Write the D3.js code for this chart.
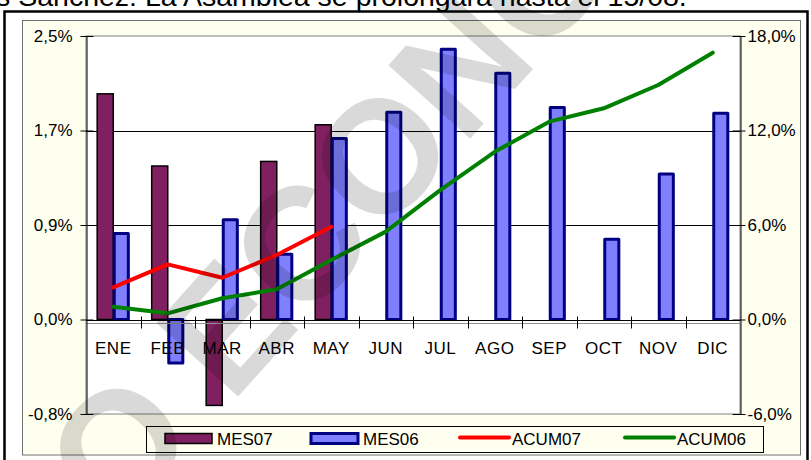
<!DOCTYPE html>
<html>
<head>
<meta charset="utf-8">
<script src="https://cdn.jsdelivr.net/npm/d3@7"></script>
<style>
  html, body { margin: 0; padding: 0; background: #ffffff; overflow: hidden; }
  text { font-family: "Liberation Sans", Arial, sans-serif; }
</style>
</head>
<body>
<div id="chart"></div>
<script>
// Chart data
const months = ["ENE", "FEB", "MAR", "ABR", "MAY", "JUN", "JUL", "AGO", "SEP", "OCT", "NOV", "DIC"];
const mes07 = [1.97, 1.34, -0.75, 1.38, 1.70];
const mes06 = [0.75, -0.38, 0.87, 0.57, 1.58, 1.81, 2.36, 2.15, 1.85, 0.70, 1.27, 1.80];
const acum07 = [2.04, 3.50, 2.65, 4.10, 5.89];
const acum06 = [0.81, 0.39, 1.35, 1.92, 3.78, 5.58, 8.22, 10.65, 12.56, 13.41, 14.89, 16.94];

const leftTicks = [-0.825, 0, 0.825, 1.65, 2.475];
const leftTickLabels = ["-0,8%", "0,0%", "0,9%", "1,7%", "2,5%"];
const rightTicks = [-6, 0, 6, 12, 18];
const rightTickLabels = ["-6,0%", "0,0%", "6,0%", "12,0%", "18,0%"];

const seriesNames = ["MES07", "MES06", "ACUM07", "ACUM06"];
const titleText = "s Sánchez: La Asamblea se prolongará hasta el 15/08.";
const watermarkText = "O ECONOMISTA";

// Layout
const WIDTH = 811;
const HEIGHT = 460;
const PLOT = { left: 86, right: 740, top: 36, bottom: 414 };
const COLORS = {
  mes07: "#802060",
  mes06: "#8080ff",
  mes06Stroke: "#000080",
  acum07: "#ff0000",
  acum06: "#008000",
  cream: "#fffff0",
};

const svg = d3
  .select("#chart")
  .append("svg")
  .attr("width", WIDTH)
  .attr("height", HEIGHT);

// Title line (cut off at the top)
svg.append("text")
  .attr("x", -4)
  .attr("y", 6)
  .style("font-size", "28.5px")
  .style("fill", "#000")
  .text(titleText);

// Outer frame and chart area
svg.append("rect")
  .attr("x", 4.5)
  .attr("y", 11.5)
  .attr("width", 803)
  .attr("height", 455)
  .attr("fill", "#ffffff")
  .attr("stroke", "#000")
  .attr("stroke-width", 2.5);

svg.append("rect")
  .attr("x", 22.5)
  .attr("y", 20.5)
  .attr("width", 778)
  .attr("height", 434.5)
  .attr("fill", COLORS.cream)
  .attr("stroke", "#707070")
  .attr("stroke-width", 1);

svg.append("rect")
  .attr("x", PLOT.left)
  .attr("y", PLOT.top)
  .attr("width", PLOT.right - PLOT.left)
  .attr("height", PLOT.bottom - PLOT.top)
  .attr("fill", "#ffffff")
  .attr("stroke", "#808080")
  .attr("stroke-width", 1);

// Scales
const x = d3
  .scaleBand(months, [PLOT.left, PLOT.right])
  .paddingInner(0.41)
  .paddingOuter(0.205);
const xSub = d3.scaleBand(["MES07", "MES06"], [0, x.bandwidth()]);
const yL = d3.scaleLinear([-0.825, 2.475], [PLOT.bottom, PLOT.top]);
const yR = d3.scaleLinear([-6, 18], [PLOT.bottom, PLOT.top]);
const step = x.step();
const cx = (m) => x(m) + x.bandwidth() / 2;

// Gridlines
svg.append("g")
  .selectAll("line")
  .data(leftTicks.filter((d) => d > 0 && d < 2.475))
  .enter()
  .append("line")
  .attr("x1", PLOT.left)
  .attr("x2", PLOT.right)
  .attr("y1", (d) => Math.round(yL(d)) + 0.5)
  .attr("y2", (d) => Math.round(yL(d)) + 0.5)
  .attr("stroke", "#000")
  .attr("stroke-width", 1);

// Bars
const bars = svg.append("g");
bars.selectAll(".b07")
  .data(mes07)
  .enter()
  .append("rect")
  .attr("class", "b07")
  .attr("x", (d, i) => x(months[i]) + xSub("MES07"))
  .attr("y", (d) => Math.min(yL(d), yL(0)))
  .attr("width", xSub.bandwidth())
  .attr("height", (d) => Math.abs(yL(d) - yL(0)))
  .attr("fill", COLORS.mes07)
  .attr("stroke", "#000")
  .attr("stroke-width", 1.5);

bars.selectAll(".b06")
  .data(mes06)
  .enter()
  .append("rect")
  .attr("class", "b06")
  .attr("x", (d, i) => x(months[i]) + xSub("MES06") + 1)
  .attr("y", (d) => Math.min(yL(d), yL(0)))
  .attr("width", xSub.bandwidth() - 2)
  .attr("height", (d) => Math.abs(yL(d) - yL(0)))
  .attr("fill", COLORS.mes06)
  .attr("stroke", COLORS.mes06Stroke)
  .attr("stroke-width", 3)
  .attr("stroke-linejoin", "round");

// Category axis at zero
const y0 = Math.round(yL(0)) + 0.5;
svg.append("line")
  .attr("x1", PLOT.left)
  .attr("x2", PLOT.right)
  .attr("y1", y0)
  .attr("y2", y0)
  .attr("stroke", "#000")
  .attr("stroke-width", 1);
svg.append("line")
  .attr("x1", PLOT.left)
  .attr("x2", PLOT.right)
  .attr("y1", y0 + 3)
  .attr("y2", y0 + 3)
  .attr("stroke", "#909090")
  .attr("stroke-width", 1);

svg.append("g")
  .selectAll("line")
  .data(months.slice(1))
  .enter()
  .append("line")
  .attr("x1", (d) => Math.round(x(d) - (step - x.bandwidth()) / 2) + 0.5)
  .attr("x2", (d) => Math.round(x(d) - (step - x.bandwidth()) / 2) + 0.5)
  .attr("y1", y0 - 4)
  .attr("y2", y0 + 8)
  .attr("stroke", "#000")
  .attr("stroke-width", 1);

svg.append("g")
  .selectAll("text")
  .data(months)
  .enter()
  .append("text")
  .attr("x", (d) => cx(d))
  .attr("y", 354)
  .attr("text-anchor", "middle")
  .style("font-size", "17px")
  .style("letter-spacing", "0.5px")
  .style("fill", "#000")
  .text((d) => d);

// Lines
const lineL = d3
  .line()
  .x((d, i) => cx(months[i]))
  .y((d) => yR(d));

svg.append("path")
  .datum(acum06)
  .attr("fill", "none")
  .attr("stroke", COLORS.acum06)
  .attr("stroke-width", 4)
  .attr("stroke-linecap", "round")
  .attr("stroke-linejoin", "round")
  .attr("d", lineL);

svg.append("path")
  .datum(acum07)
  .attr("fill", "none")
  .attr("stroke", COLORS.acum07)
  .attr("stroke-width", 4)
  .attr("stroke-linecap", "round")
  .attr("stroke-linejoin", "round")
  .attr("d", lineL);

// Value axes
const leftAxis = svg.append("g")
  .attr("transform", `translate(${PLOT.left + 0.5},0)`)
  .call(
    d3.axisLeft(yL)
      .tickValues(leftTicks)
      .tickFormat((d, i) => leftTickLabels[i])
      .tickSizeInner(6)
      .tickSizeOuter(0)
      .tickPadding(8)
  );
leftAxis.selectAll(".tick line").attr("x1", 7).attr("x2", -6);

const rightAxis = svg.append("g")
  .attr("transform", `translate(${PLOT.right + 0.5},0)`)
  .call(
    d3.axisRight(yR)
      .tickValues(rightTicks)
      .tickFormat((d, i) => rightTickLabels[i])
      .tickSizeInner(5)
      .tickSizeOuter(0)
      .tickPadding(2)
  );
rightAxis.selectAll(".tick line").attr("x1", -8).attr("x2", 5);

[leftAxis, rightAxis].forEach((a) => {
  a.select(".domain").attr("stroke", "#000").attr("stroke-width", 1);
  a.selectAll(".tick line").attr("stroke", "#000");
  a.selectAll(".tick text")
    .style("font-size", "17px")
    .style("font-family", "'Liberation Sans', Arial, sans-serif")
    .attr("fill", "#000");
});

// Legend
const legend = svg.append("g");
legend.append("rect")
  .attr("x", 146.5)
  .attr("y", 426.5)
  .attr("width", 617)
  .attr("height", 26)
  .attr("fill", COLORS.cream)
  .attr("stroke", "#000")
  .attr("stroke-width", 1);

const legendX = [165, 311, 458, 623];
const legendKeys = [
  { type: "bar", fill: COLORS.mes07, stroke: "#000", sw: 1.5 },
  { type: "bar", fill: COLORS.mes06, stroke: COLORS.mes06Stroke, sw: 3 },
  { type: "line", stroke: COLORS.acum07 },
  { type: "line", stroke: COLORS.acum06 },
];

seriesNames.forEach((name, i) => {
  const k = legendKeys[i];
  const lx = legendX[i];
  if (k.type === "bar") {
    legend.append("rect")
      .attr("x", lx)
      .attr("y", 433.5)
      .attr("width", 47)
      .attr("height", 10)
      .attr("fill", k.fill)
      .attr("stroke", k.stroke)
      .attr("stroke-width", k.sw);
  } else {
    legend.append("line")
      .attr("x1", lx + 2)
      .attr("x2", lx + 51)
      .attr("y1", 437.5)
      .attr("y2", 437.5)
      .attr("stroke", k.stroke)
      .attr("stroke-width", 4)
      .attr("stroke-linecap", "round");
  }
  legend.append("text")
    .attr("x", lx + (k.type === "bar" ? 52 : 54))
    .attr("y", 444.5)
    .style("font-size", "17px")
    .style("fill", "#000")
    .text(name);
});

// Watermark
svg.append("text")
  .attr("transform", "translate(118,530) rotate(-48)")
  .style("font-size", "160px")
  .style("font-weight", "bold")
  .style("fill", "#000")
  .style("fill-opacity", 0.15)
  .text(watermarkText);
</script>
</body>
</html>
